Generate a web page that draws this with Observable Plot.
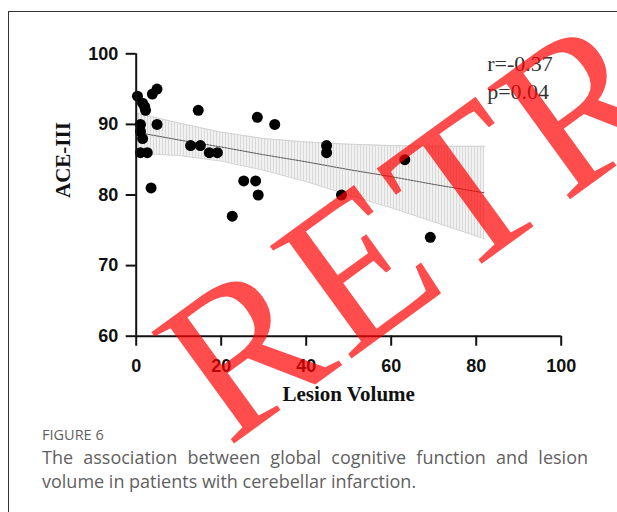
<!DOCTYPE html>
<html><head><meta charset="utf-8">
<script src="https://cdn.jsdelivr.net/npm/d3@7"></script>
<script src="https://cdn.jsdelivr.net/npm/@observablehq/plot@0.6"></script>
<style>
html,body{margin:0;padding:0;background:#fff;overflow:hidden;width:617px;height:512px;position:relative;}
#frame{position:absolute;left:8px;top:11px;width:700px;height:600px;border:1px solid #333;box-sizing:border-box;}
#chart{position:absolute;left:0;top:0;}
#figlabel{position:absolute;left:42px;top:425px;font-family:"Open Sans",Lato,sans-serif;font-size:14.5px;line-height:20px;color:#5f5f5f;}
#caption{position:absolute;left:42px;top:445px;width:546px;font-family:"Open Sans",Lato,sans-serif;font-size:18px;line-height:24px;color:#5f5f5f;text-align:justify;}
#wm{position:absolute;left:0;top:0;pointer-events:none;}
</style></head>
<body>
<div id="frame"></div>
<div id="chart"></div>
<div id="figlabel">FIGURE 6</div>
<div id="caption">The association between global cognitive function and lesion volume in patients with cerebellar infarction.</div>
<svg id="wm" width="617" height="512"></svg>
<script>
// Data
const lesionVolume = [0.3, 1.5, 2.0, 2.2, 3.8, 4.9, 4.9, 1.0, 1.0, 1.5, 1.0, 2.6, 3.5, 14.6, 12.8, 15.1, 17.2, 19.1, 28.5, 32.6, 25.3, 28.1, 28.7, 44.8, 44.8, 22.6, 63.2, 48.3, 69.2];
const aceIII       = [94, 93, 92.5, 92, 94.3, 95, 90, 90, 89, 88, 86, 86, 81, 92, 87, 87, 86, 86, 91, 90, 82, 82, 80, 87, 86, 77, 85, 80, 74];
const fitX   = [0, 10, 20, 30, 40, 50, 60, 70, 82];
const fitY   = [88.9, 87.8, 86.8, 85.7, 84.7, 83.6, 82.6, 81.5, 80.3];
const ciLow  = [85.9, 85.6, 84.8, 83.5, 81.9, 80.0, 78.2, 76.2, 73.8];
const ciHigh = [91.6, 90.2, 88.9, 88.0, 87.5, 87.2, 87.0, 86.9, 86.9];
const xTicks = [0, 20, 40, 60, 80, 100];
const yTicks = [60, 70, 80, 90, 100];
const xLabel = "Lesion Volume";
const yLabel = "ACE-III";
const statLabels = ["r=-0.37", "p=0.04"];
const watermark = "RETRACTED";

const points = lesionVolume.map((x, i) => ({x, y: aceIII[i]}));
const band = fitX.map((x, i) => ({x, fit: fitY[i], lo: ciLow[i], hi: ciHigh[i]}));

const plot = Plot.plot({
  width: 617, height: 415,
  marginLeft: 135.7, marginRight: 56.3, marginTop: 53.3, marginBottom: 79.3,
  x: {domain: [0, 100]},
  y: {domain: [60, 100]},
  style: {background: "transparent", fontFamily: "'Liberation Sans', Arial, sans-serif", fontSize: "18px", fontWeight: "bold", color: "#111", overflow: "visible"},
  marks: [
    Plot.areaY(band, {x: "x", y1: "lo", y2: "hi", fill: "#ededee"}),
    Plot.lineY(band, {x: "x", y: "lo", stroke: "#d2d2d2", strokeWidth: 1}),
    Plot.lineY(band, {x: "x", y: "hi", stroke: "#d2d2d2", strokeWidth: 1}),
    Plot.lineY(band, {x: "x", y: "fit", stroke: "#555", strokeWidth: 1, strokeDasharray: "2,1"}),
    Plot.dot(points, {x: "x", y: "y", r: 5.5, fill: "#000", stroke: "none"}),
    Plot.ruleX([0], {stroke: "#111", strokeWidth: 2}),
    Plot.ruleY([60], {stroke: "#111", strokeWidth: 2}),
    Plot.axisX(xTicks, {tickSize: 10, tickPadding: 13, strokeWidth: 2, stroke: "#111", label: null, fill: "#111"}),
    Plot.axisY(yTicks, {tickSize: 10, tickPadding: 8, strokeWidth: 2, stroke: "#111", label: null, fill: "#111"}),
    Plot.text([xLabel], {frameAnchor: "bottom", dy: 65, fontFamily: "'Liberation Serif', 'Times New Roman', serif", fontSize: 21, fontWeight: "bold", fill: "#111"}),
    Plot.text([yLabel], {frameAnchor: "left", dx: -73, dy: 3, rotate: -90, fontFamily: "'Liberation Serif', 'Times New Roman', serif", fontSize: 21, fontWeight: "bold", fill: "#111"}),
    Plot.text([statLabels.join("\n")], {frameAnchor: "top-right", dx: -74, dy: -3, textAnchor: "start", lineAnchor: "top", lineHeight: 1.29, fontFamily: "'Liberation Serif', 'Times New Roman', serif", fontSize: 22, fontWeight: "normal", fill: "#333"})
  ]
});

// vertical hatching for the confidence band (GraphPad style)
const svg = d3.select(plot);
const defs = svg.insert("defs", ":first-child");
const pat = defs.append("pattern").attr("id", "hatch").attr("patternUnits", "userSpaceOnUse").attr("width", 3).attr("height", 10);
pat.append("rect").attr("width", 3).attr("height", 10).attr("fill", "#f1f1f1");
pat.append("rect").attr("width", 1).attr("height", 10).attr("fill", "#d9d9d9");
svg.selectAll('[fill="#ededee"]').attr("fill", "url(#hatch)");

document.getElementById("chart").appendChild(plot);

// watermark overlay
d3.select("#wm").append("text")
  .attr("x", 228).attr("y", 448)
  .attr("transform", "rotate(-36 228 448)")
  .attr("font-family", "'Liberation Serif', 'Times New Roman', serif")
  .attr("font-size", 212)
  .attr("letter-spacing", 5)
  .attr("fill", "rgb(255,0,0)")
  .attr("fill-opacity", 0.7)
  .text(watermark);
</script>
</body></html>
